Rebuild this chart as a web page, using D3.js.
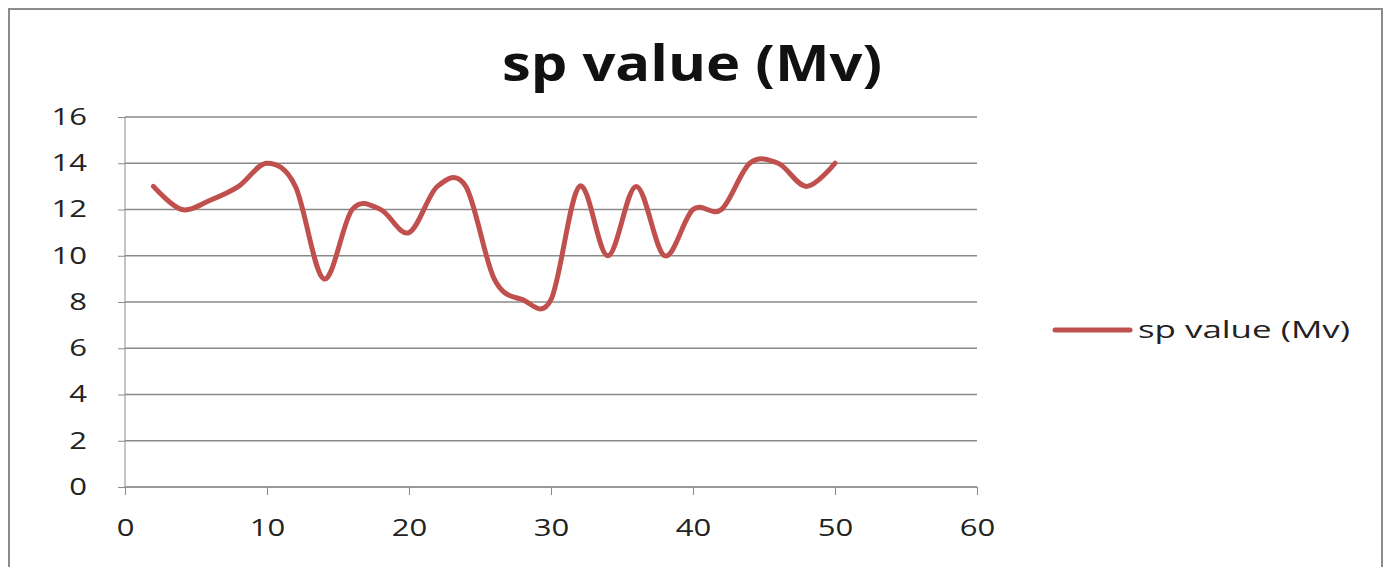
<!DOCTYPE html>
<html>
<head>
<meta charset="utf-8">
<script src="https://cdn.jsdelivr.net/npm/d3@7"></script>
<style>
  body { margin: 0; background: #fff; }
  svg { display: block; }
  .ax text { font-family: "Open Sans", sans-serif; font-size: 23px; fill: #222; }
  .ax path, .ax line { stroke: #8a8a8a; }
</style>
</head>
<body>
<svg id="chart"></svg>
<script>
// CHART DATA
var seriesName = "sp value (Mv)";
var xValues = [2, 4, 6, 8, 10, 12, 14, 16, 18, 20, 22, 24, 26, 28, 30, 32, 34, 36, 38, 40, 42, 44, 46, 48, 50];
var yValues = [13, 12, 12.4, 13, 14, 13, 9, 12, 12, 11, 13, 13, 9, 8.1, 8.1, 13, 10, 13, 10, 12, 12, 14, 14, 13, 14];
var xTicks = [0, 10, 20, 30, 40, 50, 60];
var yTicks = [0, 2, 4, 6, 8, 10, 12, 14, 16];

// SIZING
var W = 1391, H = 567;
var margin = {top: 117, left: 125};
var plotW = 852, plotH = 370;

// the picture is stretched sideways, so text gets widened too
function widen(sel, s) {
  sel.each(function() {
    var len = this.getComputedTextLength();
    d3.select(this)
      .attr("textLength", len * s)
      .attr("lengthAdjust", "spacingAndGlyphs");
  });
}

var svg = d3.select("#chart").attr("width", W).attr("height", H);

// OUTER FRAME
svg.append("rect")
  .attr("x", 9).attr("y", 9)
  .attr("width", 1373).attr("height", 600)
  .style("fill", "none")
  .style("stroke", "#8c8c8c")
  .style("stroke-width", 2);

// TITLE
var title = svg.append("text")
  .attr("x", 692).attr("y", 81)
  .attr("text-anchor", "middle")
  .style("font-family", "'Open Sans', sans-serif")
  .style("font-weight", "bold")
  .style("font-size", "50px")
  .style("fill", "#111")
  .text(seriesName);
widen(title, 380 / title.node().getComputedTextLength());

var g = svg.append("g")
  .attr("transform", "translate(" + margin.left + "," + margin.top + ")");

var x = d3.scaleLinear().domain([0, 60]).range([0, plotW]);
var y = d3.scaleLinear().domain([0, 16]).range([plotH, 0]);

// GRIDLINES
g.selectAll(".grid")
  .data(yTicks)
  .enter()
  .append("line")
  .attr("class", "grid")
  .attr("x1", 0).attr("x2", plotW)
  .attr("y1", function(d) { return y(d); })
  .attr("y2", function(d) { return y(d); })
  .style("stroke", "#8a8a8a")
  .style("stroke-width", 1.3);

// AXES
var yAx = g.append("g")
  .attr("class", "ax")
  .call(d3.axisLeft(y).tickValues(yTicks).tickSize(7).tickPadding(31).tickFormat(d3.format("d")));
yAx.select(".domain").attr("d", "M0,0V" + plotH);
widen(yAx.selectAll("text"), 1.35);

var xAx = g.append("g")
  .attr("class", "ax")
  .attr("transform", "translate(0," + plotH + ")")
  .call(d3.axisBottom(x).tickValues(xTicks).tickSize(8).tickPadding(25).tickFormat(d3.format("d")));
xAx.select(".domain").attr("d", "M0,0H" + plotW);
widen(xAx.selectAll("text"), 1.35);

// SERIES LINE
var points = xValues.map(function(v, i) { return [v, yValues[i]]; });
var line = d3.line()
  .curve(d3.curveCardinal.tension(0))
  .x(function(d) { return x(d[0]); })
  .y(function(d) { return y(d[1]); });

g.append("path")
  .datum(points)
  .attr("d", line)
  .style("fill", "none")
  .style("stroke", "#c0504d")
  .style("stroke-width", 5)
  .style("stroke-linecap", "round")
  .style("stroke-linejoin", "round");

// LEGEND
var legend = svg.append("g").attr("transform", "translate(1055,330)");
legend.append("line")
  .attr("x1", 0).attr("x2", 75)
  .style("stroke", "#c0504d")
  .style("stroke-width", 5)
  .style("stroke-linecap", "round");
var legText = legend.append("text")
  .attr("x", 83).attr("y", 8)
  .style("font-family", "'Open Sans', sans-serif")
  .style("font-size", "24px")
  .style("fill", "#222")
  .text(seriesName);
widen(legText, 212 / legText.node().getComputedTextLength());
</script>
</body>
</html>
